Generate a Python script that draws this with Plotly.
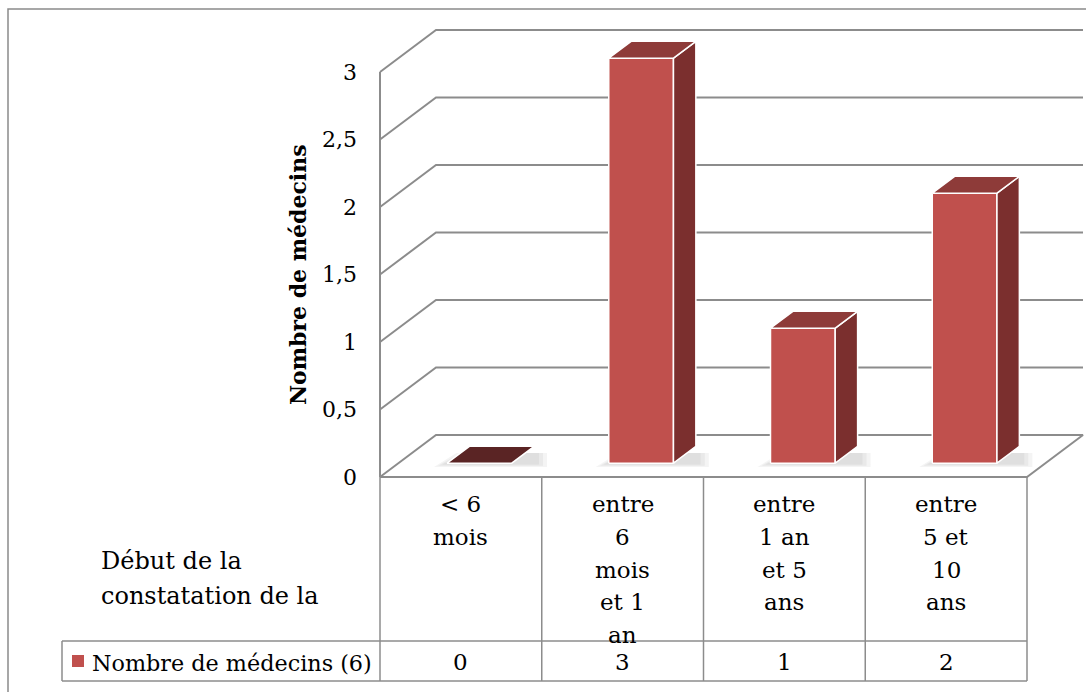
import textwrap
import plotly.graph_objects as go

# ---------------- data ----------------
categories = ["< 6 mois", "entre 6 mois et 1 an", "entre 1 an et 5 ans", "entre 5 et 10 ans"]
values = [0, 3, 1, 2]
series_name = "Nombre de médecins (6)"
y_title = "Nombre de médecins"
x_title_lines = ["Début de la", "constatation de la"]
y_ticks = [0, 0.5, 1, 1.5, 2, 2.5, 3]

# ---------------- layout constants (pixels) ----------------
W, H = 1086, 692
AX_X0 = 380.0      # pixel x of category axis start (front)
COL_W = 161.75     # pixel width of one category
Y0 = 477.0         # pixel y of value 0 (front plane)
UNIT = 135.0       # pixels per value unit
DEPTH_PX = (56.0, 42.0)   # 3D depth offset (right, up)
DX = DEPTH_PX[0] / COL_W
DV = DEPTH_PX[1] / UNIT
F_FRONT, F_BACK = 0.33, 0.73   # bar depth position
BAR_L, BAR_R = 0.3, 0.7        # bar position within category

FRONT = "#C0504D"
SIDE = "#7B2F2E"
TOP = "#8E3B39"
FLAT = "#5A2424"
GRID = "#8C8C8C"
FONT = "DejaVu Serif, Liberation Serif, serif"


def px(p):
    return p / W


def py(p):
    return 1 - p / H


fig = go.Figure()

# ---------------- walls / gridlines ----------------
ncat = len(categories)
for v in y_ticks:
    fig.add_trace(go.Scatter(
        x=[0, DX, ncat + DX], y=[v, v + DV, v + DV], mode="lines",
        line=dict(color=GRID, width=2), hoverinfo="skip", showlegend=False))
fig.add_trace(go.Scatter(x=[0, 0], y=[0, max(y_ticks)], mode="lines",
                         line=dict(color=GRID, width=2), hoverinfo="skip", showlegend=False))
fig.add_trace(go.Scatter(x=[0, ncat, ncat + DX, DX], y=[0, 0, DV, DV], mode="lines",
                         line=dict(color=GRID, width=2), hoverinfo="skip", showlegend=False))

# ---------------- bars ----------------
dd = (F_BACK - F_FRONT)
for i, v in enumerate(values):
    x0 = i + BAR_L + F_FRONT * DX
    x1 = i + BAR_R + F_FRONT * DX
    b = F_FRONT * DV
    t = v + b
    ox, oy = dd * DX, dd * DV
    # soft blurred shadow on the floor (layered)
    for k, grow in enumerate([0.08, 0.055, 0.03]):
        gx, gy = grow, grow * 0.35
        fig.add_trace(go.Scatter(
            x=[x0 - gx, x1 + ox + gx, x1 + ox + gx, x0 + ox - gx, x0 - gx],
            y=[b - gy, b - gy, b + oy * 0.6, b + oy * 0.6, b - gy],
            fill="toself", fillcolor="rgba(110,110,110,0.08)", line=dict(width=0),
            mode="lines", hoverinfo="skip", showlegend=False))
    top_color = FLAT if v == 0 else TOP
    if v > 0:
        fig.add_trace(go.Scatter(
            x=[x0, x1, x1, x0, x0], y=[b, b, t, t, b], fill="toself", fillcolor=FRONT,
            line=dict(color="white", width=1.5), mode="lines", hoverinfo="skip", showlegend=False))
        fig.add_trace(go.Scatter(
            x=[x1, x1 + ox, x1 + ox, x1, x1], y=[b, b + oy, t + oy, t, b], fill="toself",
            fillcolor=SIDE, line=dict(color="white", width=1.5), mode="lines",
            hoverinfo="skip", showlegend=False))
    fig.add_trace(go.Scatter(
        x=[x0, x1, x1 + ox, x0 + ox, x0], y=[t, t, t + oy, t + oy, t], fill="toself",
        fillcolor=top_color, line=dict(color="white", width=1.5), mode="lines",
        hoverinfo="skip", showlegend=False))

# ---------------- data table ----------------
TB_TOP, TB_MID, TB_BOT = 477, 641, 681
LEG_X = 62
shapes = []
line = dict(color=GRID, width=1.5)
for i in range(ncat + 1):
    shapes.append(dict(type="line", xref="x", yref="paper", x0=i, x1=i,
                       y0=py(TB_TOP), y1=py(TB_BOT), line=line))
shapes.append(dict(type="line", xref="paper", yref="paper", x0=px(LEG_X),
                   x1=px(AX_X0 + ncat * COL_W), y0=py(TB_MID), y1=py(TB_MID), line=line))
shapes.append(dict(type="line", xref="paper", yref="paper", x0=px(LEG_X),
                   x1=px(AX_X0 + ncat * COL_W), y0=py(TB_BOT), y1=py(TB_BOT), line=line))
shapes.append(dict(type="line", xref="paper", yref="paper", x0=px(LEG_X), x1=px(LEG_X),
                   y0=py(TB_MID), y1=py(TB_BOT), line=line))
shapes.append(dict(type="rect", xref="paper", yref="paper", x0=px(72), x1=px(84),
                   y0=py(667), y1=py(655), fillcolor=FRONT, line=dict(width=0)))
shapes.append(dict(type="rect", xref="paper", yref="paper", x0=px(8), x1=px(W + 20),
                   y0=py(H + 20), y1=py(9), line=dict(color="#8A8A8A", width=1.5)))

txt = dict(family=FONT, size=23, color="black")
annotations = []
CAT_Y0, CAT_DY = 504, 32.8
for i, (c, v) in enumerate(zip(categories, values)):
    for k, ln in enumerate(textwrap.wrap(c, 5)):
        annotations.append(dict(x=i + 0.5, xref="x", y=py(CAT_Y0 + k * CAT_DY), yref="paper",
                                yanchor="middle", xanchor="center", showarrow=False,
                                text=ln, font=txt))
    annotations.append(dict(x=i + 0.5, xref="x", y=py(662), yref="paper", yanchor="middle",
                            xanchor="center", showarrow=False, text=str(v), font=txt))
annotations.append(dict(x=px(90), xref="paper", y=py(663), yref="paper", xanchor="left",
                        yanchor="middle", showarrow=False, text=series_name,
                        font=dict(family=FONT, size=22.3, color="black")))
for k, ln in enumerate(x_title_lines):
    annotations.append(dict(x=px(99), xref="paper", y=py(561 + 35 * k), yref="paper",
                            xanchor="left", yanchor="middle", showarrow=False, text=ln,
                            font=dict(family=FONT, size=24, color="black")))
annotations.append(dict(x=px(298), xref="paper", y=py(275), yref="paper", xanchor="center",
                        yanchor="middle", showarrow=False, textangle=-90,
                        text="<b>" + y_title + "</b>",
                        font=dict(family=FONT, size=22, color="black")))

fig.update_layout(
    width=W, height=H, margin=dict(l=0, r=0, t=0, b=0),
    paper_bgcolor="white", plot_bgcolor="white", separators=", ",
    shapes=shapes, annotations=annotations, showlegend=False,
    xaxis=dict(range=[-AX_X0 / COL_W, (W - AX_X0) / COL_W], visible=False, fixedrange=True),
    yaxis=dict(range=[(Y0 - H) / UNIT, Y0 / UNIT], anchor="free", position=px(357),
               tickvals=y_ticks, ticks="", showgrid=False, zeroline=False, showline=False,
               automargin=False, tickfont=dict(family=FONT, size=22, color="black"),
               fixedrange=True),
)

fig.write_html("out.html", config={"displayModeBar": False},
               post_script="document.body.style.margin='0';document.body.style.overflow='hidden';")
